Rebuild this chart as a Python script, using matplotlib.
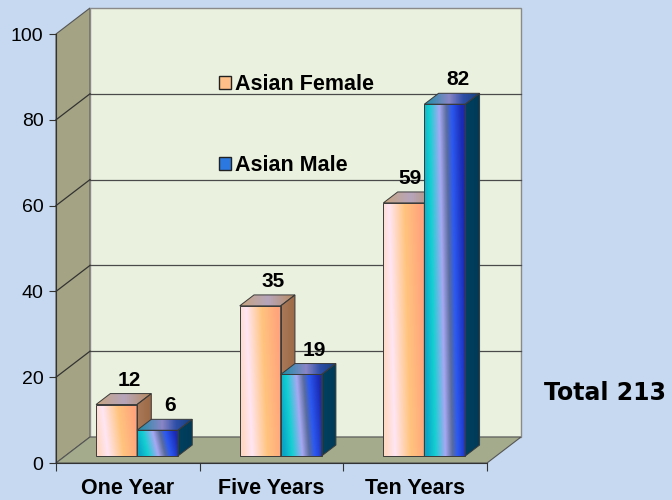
import matplotlib.pyplot as plt
import numpy as np
from matplotlib.colors import LinearSegmentedColormap
from matplotlib.patches import Polygon, Patch

categories = ['One Year', 'Five Years', 'Ten Years']
female = [12, 35, 59]
male = [6, 19, 82]
series_names = ['Asian Female', 'Asian Male']
yticks = [0, 20, 40, 60, 80, 100]
total_label = 'Total 213'

W, H = 672, 500
fig = plt.figure(figsize=(W / 100, H / 100), dpi=100, facecolor='#c6d9f0')
# front plane of the 3d box, in pixels: x 56..487, y 34..463
ax = fig.add_axes([56 / W, (H - 463) / H, (487 - 56) / W, (463 - 34) / H])
ax.set_facecolor('none')
ax.set_xlim(0, 3)
ax.set_ylim(0, 100)

px_x = (487 - 56) / 3.0      # pixels per category unit
px_y = (463 - 34) / 100.0    # pixels per value unit
DX = 34 / px_x               # depth offset of back wall
DY = 26 / px_y

# walls
ax.add_patch(Polygon([(0, 0), (0, 100), (DX, 100 + DY), (DX, DY)], closed=True,
                     facecolor='#a4a384', edgecolor='#555555', lw=0.8, clip_on=False, zorder=0))
ax.add_patch(Polygon([(DX, DY), (3 + DX, DY), (3 + DX, 100 + DY), (DX, 100 + DY)], closed=True,
                     facecolor='#eaf1de', edgecolor='#8a8a8a', lw=1.0, clip_on=False, zorder=0))
ax.add_patch(Polygon([(0, 0), (3, 0), (3 + DX, DY), (DX, DY)], closed=True,
                     facecolor='#a3ab8c', edgecolor='#555555', lw=0.8, clip_on=False, zorder=0.5))

for v in yticks[1:-1]:
    ax.plot([DX, 3 + DX], [v + DY, v + DY], color='#4a4a4a', lw=0.9, clip_on=False, zorder=0.6)
    ax.plot([0, DX], [v, v + DY], color='#333333', lw=0.9, clip_on=False, zorder=0.6)


def gradient(stops, n=80, rows=40, slant=0.0):
    cmap = LinearSegmentedColormap.from_list('g', stops)
    u = np.linspace(0, 1, n)[None, :]
    r = np.linspace(0, 1, rows)[:, None]
    t = np.clip(u + slant * (r - 0.5), 0, 1)
    return cmap(t)


def face(pts, stops, z, slant=0.0):
    poly = Polygon(pts, closed=True, facecolor='none', edgecolor='#3a3a3a', lw=0.7, zorder=z + 0.01)
    ax.add_patch(poly)
    xs = [p[0] for p in pts]
    ys = [p[1] for p in pts]
    im = ax.imshow(gradient(stops, slant=slant), extent=[min(xs), max(xs), min(ys), max(ys)],
                   origin='upper', aspect='auto', interpolation='bilinear', zorder=z)
    im.set_clip_path(poly)


fem_front = [(0, '#ffd9c4'), (0.22, '#ffe6f4'), (0.6, '#ffc47e'), (1, '#ffa47c')]
fem_top = [(0, '#c8a47e'), (0.5, '#b6a6bc'), (1, '#b88a5c')]
fem_side = [(0, '#aa7a58'), (1, '#9c6846')]
mal_front = [(0, '#0aa6c6'), (0.2, '#14d0d2'), (0.45, '#a8a8f2'), (0.62, '#5a6c9c'),
             (0.75, '#2c5af2'), (1, '#1a2ab4')]
mal_top = [(0, '#1a8ea6'), (0.45, '#8a86c6'), (0.7, '#2f4fa8'), (1, '#14407a')]
mal_side = [(0, '#00405f'), (1, '#003a58')]

bw = 0.285
d0, d1 = 0.27, 0.69
sx, sy = d0 * DX, d0 * DY
ex, ey = d1 * DX, d1 * DY


def bar3d(x0, v, front, top, side, z):
    x1 = x0 + bw
    face([(x0 + sx, sy), (x1 + sx, sy), (x1 + sx, v + sy), (x0 + sx, v + sy)], front, z, slant=-0.15)
    face([(x0 + sx, v + sy), (x1 + sx, v + sy), (x1 + ex, v + ey), (x0 + ex, v + ey)], top, z)
    face([(x1 + sx, sy), (x1 + ex, ey), (x1 + ex, v + ey), (x1 + sx, v + sy)], side, z)


for i, (f, m) in enumerate(zip(female, male)):
    xf = i + 0.5 - bw
    xm = i + 0.5
    bar3d(xf, f, fem_front, fem_top, fem_side, 2 + i)
    bar3d(xm, m, mal_front, mal_top, mal_side, 2.5 + i)
    for x0, v, other in [(xf, f, m), (xm, m, None)]:
        nudge = 13 / px_x
        if other is not None and other > v:
            nudge = 6 / px_x
        ax.text(x0 + sx + bw / 2 + nudge, v + ey + 8 / px_y, str(v), ha='center', va='baseline',
                fontsize=15, fontweight='bold', family='Liberation Sans', zorder=10)

# axes
for s in ['top', 'right']:
    ax.spines[s].set_visible(False)
ax.spines['left'].set_color('#333333')
ax.spines['bottom'].set_color('#333333')
ax.spines['left'].set_zorder(1)
ax.spines['bottom'].set_zorder(1)
ax.set_yticks(yticks)
ax.set_yticklabels([str(v) for v in yticks], fontsize=14, family='Liberation Sans')
ax.tick_params(axis='y', length=5, color='#333333', pad=4)
ax.set_xticks([0, 1, 2, 3])
ax.set_xticklabels([])
ax.tick_params(axis='x', which='major', length=6, color='#333333')
ax.set_xticks([0.5, 1.5, 2.5], minor=True)
ax.set_xticklabels(categories, minor=True, fontsize=15.5, fontweight='bold', family='Liberation Sans')
ax.tick_params(axis='x', which='minor', length=0, pad=11)

handles = [Patch(facecolor='#ffbf88', edgecolor='#222222', lw=1.0),
           Patch(facecolor='#2a78e0', edgecolor='#222222', lw=1.0)]
leg = fig.legend(handles, series_names, loc='upper left', bbox_to_anchor=(208 / W, 1 - 63 / H),
                 frameon=False, borderpad=0, handlelength=0.55, handleheight=0.55, handletextpad=0.22,
                 labelspacing=2.82, prop={'family': 'Liberation Sans', 'weight': 'bold', 'size': 15.5})
leg.set_zorder(12)

fig.text(666 / W, 1 - 400 / H, total_label, ha='right', va='baseline', fontsize=17,
         fontweight='bold', family='DejaVu Sans')

fig.savefig('out.png', dpi=100, facecolor=fig.get_facecolor())
